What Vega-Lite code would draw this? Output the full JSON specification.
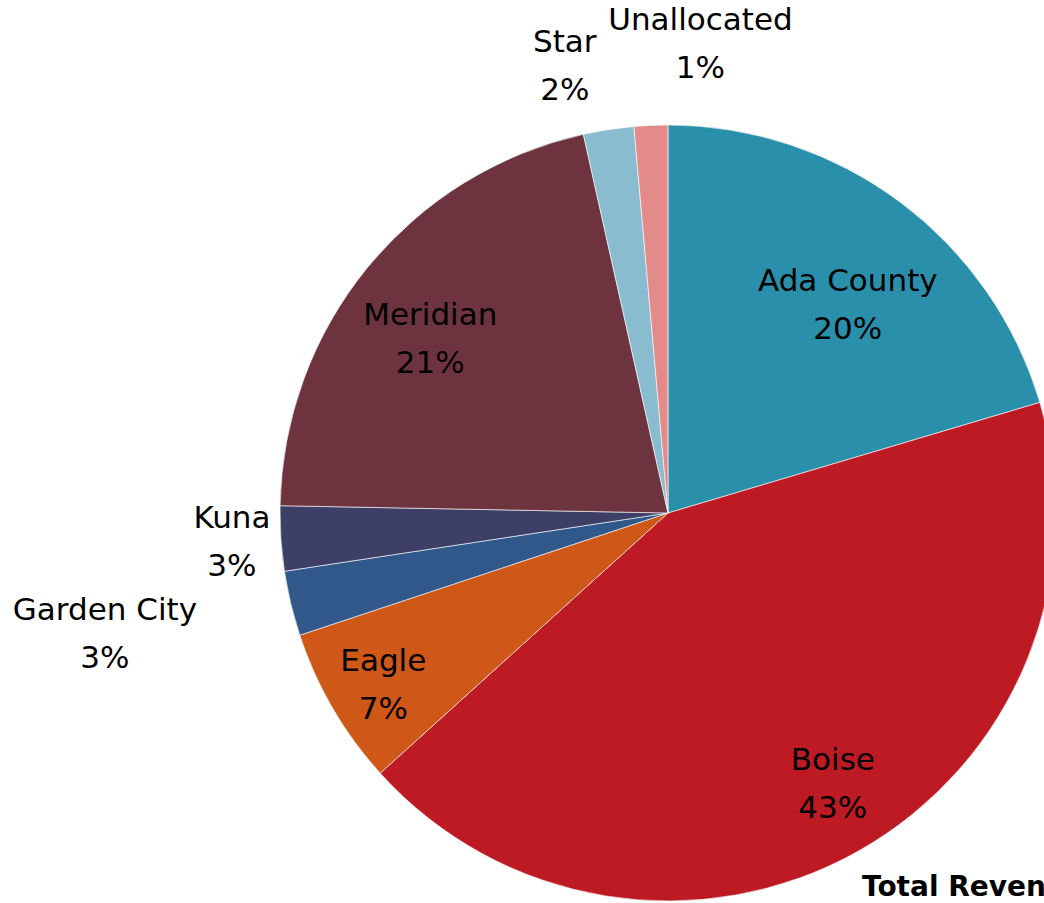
{
  "$schema": "https://vega.github.io/schema/vega-lite/v6.json",
  "width": 776,
  "height": 776,
  "autosize": {"type": "none"},
  "padding": {"left": 280, "top": 125, "right": 0, "bottom": 0},
  "background": "white",
  "config": {"view": {"stroke": null}, "text": {"font": "DejaVu Sans", "fontSize": 31, "lineHeight": 48, "lineBreak": "\n", "color": "#000000"}},
  "title": {"text": "Total Revenue", "orient": "top", "anchor": "start", "frame": "group", "dx": 582, "offset": -1038, "baseline": "alphabetic", "font": "DejaVu Sans", "fontSize": 28, "fontWeight": "bold", "color": "#000000"},
  "data": {"values": [
    {"idx": 1, "name": "Ada County", "value": 20.4, "label": "Ada County\n20%"},
    {"idx": 2, "name": "Boise", "value": 42.9, "label": "Boise\n43%"},
    {"idx": 3, "name": "Eagle", "value": 6.6, "label": "Eagle\n7%"},
    {"idx": 4, "name": "Garden City", "value": 2.7, "label": "Garden City\n3%"},
    {"idx": 5, "name": "Kuna", "value": 2.7, "label": "Kuna\n3%"},
    {"idx": 6, "name": "Meridian", "value": 21.2, "label": "Meridian\n21%"},
    {"idx": 7, "name": "Star", "value": 2.1, "label": "Star\n2%"},
    {"idx": 8, "name": "Unallocated", "value": 1.4, "label": "Unallocated\n1%"}
  ]},
  "encoding": {
    "theta": {"field": "value", "type": "quantitative", "stack": true},
    "order": {"field": "idx", "type": "quantitative"}
  },
  "layer": [
    {
      "mark": {"type": "arc", "outerRadius": 388, "stroke": "#ffffff", "strokeWidth": 0.6},
      "encoding": {
        "color": {"field": "name", "type": "nominal", "legend": null,
          "scale": {"domain": ["Ada County", "Boise", "Eagle", "Garden City", "Kuna", "Meridian", "Star", "Unallocated"],
                    "range": ["#2A8FAB", "#BE1A24", "#CF5717", "#31588A", "#3E3F66", "#6D3440", "#8ABCD0", "#E38A8A"]}}
      }
    },
    {"mark": {"type": "text", "radius": 274, "dx": 16, "dy": -11, "baseline": "middle"}, "encoding": {"text": {"condition": {"test": "datum.name === 'Ada County'", "field": "label"}, "value": ""}}},
    {"mark": {"type": "text", "radius": 318, "dx": 9, "dy": -29, "baseline": "middle"}, "encoding": {"text": {"condition": {"test": "datum.name === 'Boise'", "field": "label"}, "value": ""}}},
    {"mark": {"type": "text", "radius": 333, "dx": 3, "dy": -19, "baseline": "middle"}, "encoding": {"text": {"condition": {"test": "datum.name === 'Eagle'", "field": "label"}, "value": ""}}},
    {"mark": {"type": "text", "radius": 294, "dx": -10, "dy": -11, "baseline": "middle"}, "encoding": {"text": {"condition": {"test": "datum.name === 'Meridian'", "field": "label"}, "value": ""}}},
    {"mark": {"type": "text", "radius": 437, "dy": -23, "baseline": "middle"}, "encoding": {"text": {"condition": {"test": "datum.name === 'Kuna'", "field": "label"}, "value": ""}}},
    {"mark": {"type": "text", "radius": 576, "dx": -3, "dy": -36, "baseline": "middle"}, "encoding": {"text": {"condition": {"test": "datum.name === 'Garden City'", "field": "label"}, "value": ""}}},
    {"mark": {"type": "text", "radius": 458, "dx": -33, "dy": -17, "baseline": "middle"}, "encoding": {"text": {"condition": {"test": "datum.name === 'Star'", "field": "label"}, "value": ""}}},
    {"mark": {"type": "text", "radius": 468, "dx": 53, "dy": -24, "baseline": "middle"}, "encoding": {"text": {"condition": {"test": "datum.name === 'Unallocated'", "field": "label"}, "value": ""}}}
  ]
}
